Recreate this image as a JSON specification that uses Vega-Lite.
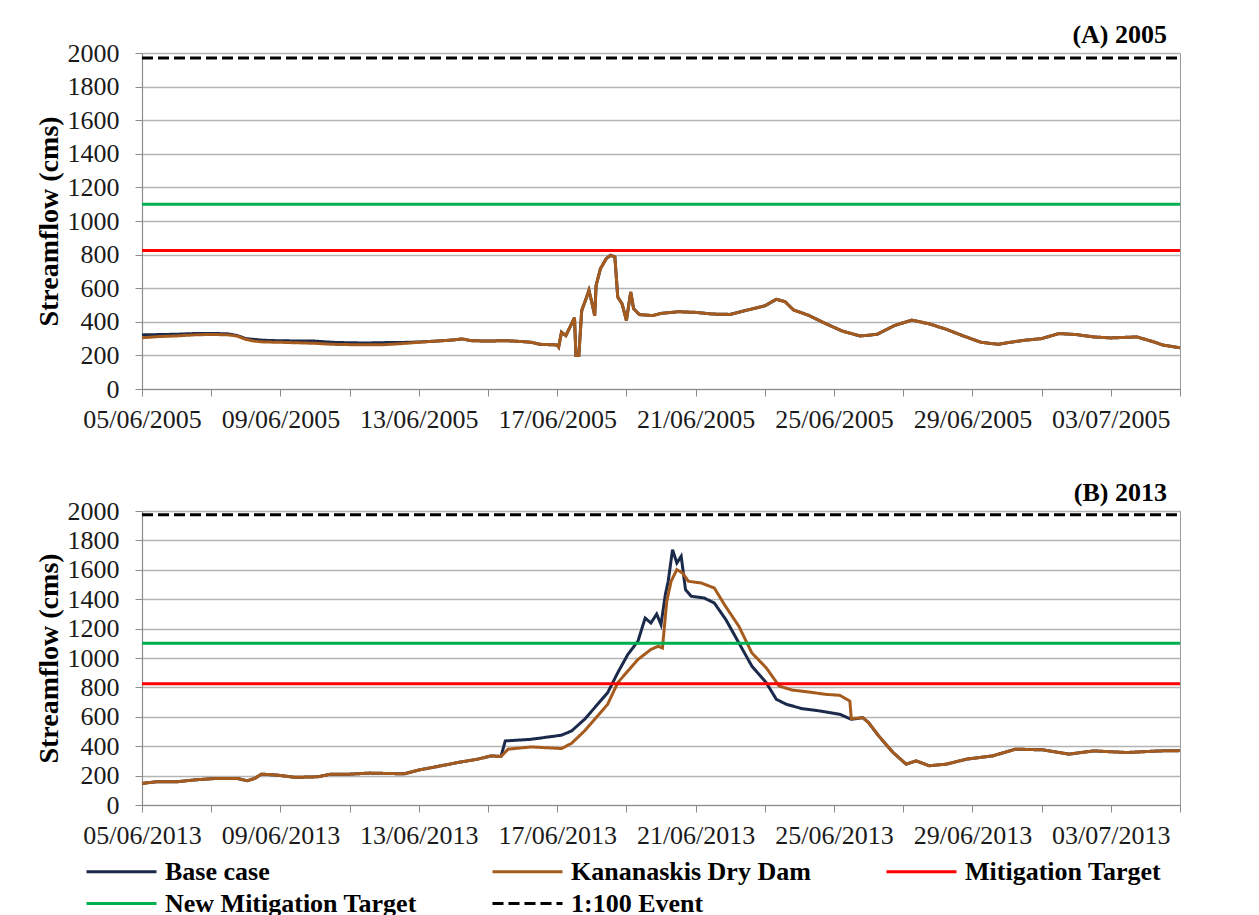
{
  "$schema": "https://vega.github.io/schema/vega-lite/v6.json",
  "padding": {"left": 34, "top": 21, "right": 10, "bottom": 60},
  "background": "white",
  "spacing": 46,
  "datasets": {
    "p2005": [
      {"series": "Base case", "t": "2005-06-05T00:00", "v": 322},
      {"series": "Base case", "t": "2005-06-05T12:00", "v": 324},
      {"series": "Base case", "t": "2005-06-06T00:00", "v": 326},
      {"series": "Base case", "t": "2005-06-06T12:00", "v": 330},
      {"series": "Base case", "t": "2005-06-07T00:00", "v": 331},
      {"series": "Base case", "t": "2005-06-07T12:00", "v": 328},
      {"series": "Base case", "t": "2005-06-07T18:00", "v": 318},
      {"series": "Base case", "t": "2005-06-08T00:00", "v": 300},
      {"series": "Base case", "t": "2005-06-08T12:00", "v": 290},
      {"series": "Base case", "t": "2005-06-09T00:00", "v": 287},
      {"series": "Base case", "t": "2005-06-09T12:00", "v": 286},
      {"series": "Base case", "t": "2005-06-10T00:00", "v": 285},
      {"series": "Base case", "t": "2005-06-10T12:00", "v": 278},
      {"series": "Base case", "t": "2005-06-11T00:00", "v": 275},
      {"series": "Base case", "t": "2005-06-11T12:00", "v": 274},
      {"series": "Base case", "t": "2005-06-12T00:00", "v": 276},
      {"series": "Base case", "t": "2005-06-12T12:00", "v": 277},
      {"series": "Base case", "t": "2005-06-13T00:00", "v": 280},
      {"series": "Base case", "t": "2005-06-13T12:00", "v": 285},
      {"series": "Base case", "t": "2005-06-14T00:00", "v": 292},
      {"series": "Base case", "t": "2005-06-14T06:00", "v": 298},
      {"series": "Base case", "t": "2005-06-14T12:00", "v": 288},
      {"series": "Base case", "t": "2005-06-15T00:00", "v": 285},
      {"series": "Base case", "t": "2005-06-15T12:00", "v": 288},
      {"series": "Base case", "t": "2005-06-16T00:00", "v": 282},
      {"series": "Base case", "t": "2005-06-16T06:00", "v": 278},
      {"series": "Base case", "t": "2005-06-16T12:00", "v": 266},
      {"series": "Base case", "t": "2005-06-17T00:00", "v": 262},
      {"series": "Base case", "t": "2005-06-17T01:00", "v": 250},
      {"series": "Base case", "t": "2005-06-17T03:00", "v": 338},
      {"series": "Base case", "t": "2005-06-17T06:00", "v": 318},
      {"series": "Base case", "t": "2005-06-17T12:00", "v": 424},
      {"series": "Base case", "t": "2005-06-17T13:00", "v": 199},
      {"series": "Base case", "t": "2005-06-17T15:00", "v": 199},
      {"series": "Base case", "t": "2005-06-17T17:00", "v": 467},
      {"series": "Base case", "t": "2005-06-17T20:00", "v": 537},
      {"series": "Base case", "t": "2005-06-17T22:00", "v": 587},
      {"series": "Base case", "t": "2005-06-18T00:00", "v": 517},
      {"series": "Base case", "t": "2005-06-18T02:00", "v": 437},
      {"series": "Base case", "t": "2005-06-18T03:00", "v": 617},
      {"series": "Base case", "t": "2005-06-18T06:00", "v": 716},
      {"series": "Base case", "t": "2005-06-18T10:00", "v": 776},
      {"series": "Base case", "t": "2005-06-18T13:00", "v": 796},
      {"series": "Base case", "t": "2005-06-18T16:00", "v": 786},
      {"series": "Base case", "t": "2005-06-18T18:00", "v": 547},
      {"series": "Base case", "t": "2005-06-18T21:00", "v": 507},
      {"series": "Base case", "t": "2005-06-19T00:00", "v": 408},
      {"series": "Base case", "t": "2005-06-19T03:00", "v": 577},
      {"series": "Base case", "t": "2005-06-19T05:00", "v": 478},
      {"series": "Base case", "t": "2005-06-19T09:00", "v": 443},
      {"series": "Base case", "t": "2005-06-19T18:00", "v": 437},
      {"series": "Base case", "t": "2005-06-20T00:00", "v": 450},
      {"series": "Base case", "t": "2005-06-20T12:00", "v": 460},
      {"series": "Base case", "t": "2005-06-21T00:00", "v": 456},
      {"series": "Base case", "t": "2005-06-21T12:00", "v": 446},
      {"series": "Base case", "t": "2005-06-22T00:00", "v": 444},
      {"series": "Base case", "t": "2005-06-22T12:00", "v": 470},
      {"series": "Base case", "t": "2005-06-23T00:00", "v": 495},
      {"series": "Base case", "t": "2005-06-23T08:00", "v": 534},
      {"series": "Base case", "t": "2005-06-23T14:00", "v": 520},
      {"series": "Base case", "t": "2005-06-23T20:00", "v": 470},
      {"series": "Base case", "t": "2005-06-24T06:00", "v": 440},
      {"series": "Base case", "t": "2005-06-24T18:00", "v": 390},
      {"series": "Base case", "t": "2005-06-25T06:00", "v": 344},
      {"series": "Base case", "t": "2005-06-25T18:00", "v": 316},
      {"series": "Base case", "t": "2005-06-26T00:00", "v": 320},
      {"series": "Base case", "t": "2005-06-26T06:00", "v": 326},
      {"series": "Base case", "t": "2005-06-26T18:00", "v": 378},
      {"series": "Base case", "t": "2005-06-27T06:00", "v": 410},
      {"series": "Base case", "t": "2005-06-27T18:00", "v": 388},
      {"series": "Base case", "t": "2005-06-28T06:00", "v": 355},
      {"series": "Base case", "t": "2005-06-28T18:00", "v": 315},
      {"series": "Base case", "t": "2005-06-29T06:00", "v": 278},
      {"series": "Base case", "t": "2005-06-29T18:00", "v": 266},
      {"series": "Base case", "t": "2005-06-30T00:00", "v": 275},
      {"series": "Base case", "t": "2005-06-30T12:00", "v": 290},
      {"series": "Base case", "t": "2005-07-01T00:00", "v": 300},
      {"series": "Base case", "t": "2005-07-01T12:00", "v": 330},
      {"series": "Base case", "t": "2005-07-02T00:00", "v": 324},
      {"series": "Base case", "t": "2005-07-02T12:00", "v": 310},
      {"series": "Base case", "t": "2005-07-03T00:00", "v": 304},
      {"series": "Base case", "t": "2005-07-03T18:00", "v": 310},
      {"series": "Base case", "t": "2005-07-04T06:00", "v": 280},
      {"series": "Base case", "t": "2005-07-04T12:00", "v": 262},
      {"series": "Base case", "t": "2005-07-05T00:00", "v": 245},
      {"series": "Kananaskis Dry Dam", "t": "2005-06-05T00:00", "v": 305},
      {"series": "Kananaskis Dry Dam", "t": "2005-06-05T12:00", "v": 312},
      {"series": "Kananaskis Dry Dam", "t": "2005-06-06T00:00", "v": 316},
      {"series": "Kananaskis Dry Dam", "t": "2005-06-06T12:00", "v": 322},
      {"series": "Kananaskis Dry Dam", "t": "2005-06-07T00:00", "v": 325},
      {"series": "Kananaskis Dry Dam", "t": "2005-06-07T12:00", "v": 322},
      {"series": "Kananaskis Dry Dam", "t": "2005-06-07T18:00", "v": 315},
      {"series": "Kananaskis Dry Dam", "t": "2005-06-08T00:00", "v": 295},
      {"series": "Kananaskis Dry Dam", "t": "2005-06-08T06:00", "v": 285},
      {"series": "Kananaskis Dry Dam", "t": "2005-06-08T12:00", "v": 280},
      {"series": "Kananaskis Dry Dam", "t": "2005-06-09T00:00", "v": 278},
      {"series": "Kananaskis Dry Dam", "t": "2005-06-09T12:00", "v": 275},
      {"series": "Kananaskis Dry Dam", "t": "2005-06-10T00:00", "v": 272},
      {"series": "Kananaskis Dry Dam", "t": "2005-06-10T12:00", "v": 266},
      {"series": "Kananaskis Dry Dam", "t": "2005-06-11T00:00", "v": 264},
      {"series": "Kananaskis Dry Dam", "t": "2005-06-11T12:00", "v": 263},
      {"series": "Kananaskis Dry Dam", "t": "2005-06-12T00:00", "v": 264},
      {"series": "Kananaskis Dry Dam", "t": "2005-06-12T12:00", "v": 270},
      {"series": "Kananaskis Dry Dam", "t": "2005-06-13T00:00", "v": 278},
      {"series": "Kananaskis Dry Dam", "t": "2005-06-13T12:00", "v": 285},
      {"series": "Kananaskis Dry Dam", "t": "2005-06-14T00:00", "v": 292},
      {"series": "Kananaskis Dry Dam", "t": "2005-06-14T06:00", "v": 298},
      {"series": "Kananaskis Dry Dam", "t": "2005-06-14T12:00", "v": 288},
      {"series": "Kananaskis Dry Dam", "t": "2005-06-15T00:00", "v": 285},
      {"series": "Kananaskis Dry Dam", "t": "2005-06-15T12:00", "v": 288},
      {"series": "Kananaskis Dry Dam", "t": "2005-06-16T00:00", "v": 282},
      {"series": "Kananaskis Dry Dam", "t": "2005-06-16T06:00", "v": 278},
      {"series": "Kananaskis Dry Dam", "t": "2005-06-16T12:00", "v": 266},
      {"series": "Kananaskis Dry Dam", "t": "2005-06-17T00:00", "v": 262},
      {"series": "Kananaskis Dry Dam", "t": "2005-06-17T01:00", "v": 250},
      {"series": "Kananaskis Dry Dam", "t": "2005-06-17T03:00", "v": 338},
      {"series": "Kananaskis Dry Dam", "t": "2005-06-17T06:00", "v": 318},
      {"series": "Kananaskis Dry Dam", "t": "2005-06-17T12:00", "v": 424},
      {"series": "Kananaskis Dry Dam", "t": "2005-06-17T13:00", "v": 199},
      {"series": "Kananaskis Dry Dam", "t": "2005-06-17T15:00", "v": 199},
      {"series": "Kananaskis Dry Dam", "t": "2005-06-17T17:00", "v": 467},
      {"series": "Kananaskis Dry Dam", "t": "2005-06-17T20:00", "v": 537},
      {"series": "Kananaskis Dry Dam", "t": "2005-06-17T22:00", "v": 587},
      {"series": "Kananaskis Dry Dam", "t": "2005-06-18T00:00", "v": 517},
      {"series": "Kananaskis Dry Dam", "t": "2005-06-18T02:00", "v": 437},
      {"series": "Kananaskis Dry Dam", "t": "2005-06-18T03:00", "v": 617},
      {"series": "Kananaskis Dry Dam", "t": "2005-06-18T06:00", "v": 716},
      {"series": "Kananaskis Dry Dam", "t": "2005-06-18T10:00", "v": 776},
      {"series": "Kananaskis Dry Dam", "t": "2005-06-18T13:00", "v": 796},
      {"series": "Kananaskis Dry Dam", "t": "2005-06-18T16:00", "v": 786},
      {"series": "Kananaskis Dry Dam", "t": "2005-06-18T18:00", "v": 547},
      {"series": "Kananaskis Dry Dam", "t": "2005-06-18T21:00", "v": 507},
      {"series": "Kananaskis Dry Dam", "t": "2005-06-19T00:00", "v": 408},
      {"series": "Kananaskis Dry Dam", "t": "2005-06-19T03:00", "v": 577},
      {"series": "Kananaskis Dry Dam", "t": "2005-06-19T05:00", "v": 478},
      {"series": "Kananaskis Dry Dam", "t": "2005-06-19T09:00", "v": 443},
      {"series": "Kananaskis Dry Dam", "t": "2005-06-19T18:00", "v": 437},
      {"series": "Kananaskis Dry Dam", "t": "2005-06-20T00:00", "v": 450},
      {"series": "Kananaskis Dry Dam", "t": "2005-06-20T12:00", "v": 460},
      {"series": "Kananaskis Dry Dam", "t": "2005-06-21T00:00", "v": 456},
      {"series": "Kananaskis Dry Dam", "t": "2005-06-21T12:00", "v": 446},
      {"series": "Kananaskis Dry Dam", "t": "2005-06-22T00:00", "v": 444},
      {"series": "Kananaskis Dry Dam", "t": "2005-06-22T12:00", "v": 470},
      {"series": "Kananaskis Dry Dam", "t": "2005-06-23T00:00", "v": 495},
      {"series": "Kananaskis Dry Dam", "t": "2005-06-23T08:00", "v": 534},
      {"series": "Kananaskis Dry Dam", "t": "2005-06-23T14:00", "v": 520},
      {"series": "Kananaskis Dry Dam", "t": "2005-06-23T20:00", "v": 470},
      {"series": "Kananaskis Dry Dam", "t": "2005-06-24T06:00", "v": 440},
      {"series": "Kananaskis Dry Dam", "t": "2005-06-24T18:00", "v": 390},
      {"series": "Kananaskis Dry Dam", "t": "2005-06-25T06:00", "v": 344},
      {"series": "Kananaskis Dry Dam", "t": "2005-06-25T18:00", "v": 316},
      {"series": "Kananaskis Dry Dam", "t": "2005-06-26T00:00", "v": 320},
      {"series": "Kananaskis Dry Dam", "t": "2005-06-26T06:00", "v": 326},
      {"series": "Kananaskis Dry Dam", "t": "2005-06-26T18:00", "v": 378},
      {"series": "Kananaskis Dry Dam", "t": "2005-06-27T06:00", "v": 410},
      {"series": "Kananaskis Dry Dam", "t": "2005-06-27T18:00", "v": 388},
      {"series": "Kananaskis Dry Dam", "t": "2005-06-28T06:00", "v": 355},
      {"series": "Kananaskis Dry Dam", "t": "2005-06-28T18:00", "v": 315},
      {"series": "Kananaskis Dry Dam", "t": "2005-06-29T06:00", "v": 278},
      {"series": "Kananaskis Dry Dam", "t": "2005-06-29T18:00", "v": 266},
      {"series": "Kananaskis Dry Dam", "t": "2005-06-30T00:00", "v": 275},
      {"series": "Kananaskis Dry Dam", "t": "2005-06-30T12:00", "v": 290},
      {"series": "Kananaskis Dry Dam", "t": "2005-07-01T00:00", "v": 300},
      {"series": "Kananaskis Dry Dam", "t": "2005-07-01T12:00", "v": 330},
      {"series": "Kananaskis Dry Dam", "t": "2005-07-02T00:00", "v": 324},
      {"series": "Kananaskis Dry Dam", "t": "2005-07-02T12:00", "v": 310},
      {"series": "Kananaskis Dry Dam", "t": "2005-07-03T00:00", "v": 304},
      {"series": "Kananaskis Dry Dam", "t": "2005-07-03T18:00", "v": 310},
      {"series": "Kananaskis Dry Dam", "t": "2005-07-04T06:00", "v": 280},
      {"series": "Kananaskis Dry Dam", "t": "2005-07-04T12:00", "v": 262},
      {"series": "Kananaskis Dry Dam", "t": "2005-07-05T00:00", "v": 245},
      {"series": "Mitigation Target", "t": "2005-06-05T00:00", "v": 825},
      {"series": "Mitigation Target", "t": "2005-07-05T00:00", "v": 825},
      {"series": "New Mitigation Target", "t": "2005-06-05T00:00", "v": 1100},
      {"series": "New Mitigation Target", "t": "2005-07-05T00:00", "v": 1100},
      {"series": "1:100 Event", "t": "2005-06-05T00:00", "v": 1970},
      {"series": "1:100 Event", "t": "2005-07-05T00:00", "v": 1970}
    ],
    "p2013": [
      {"series": "Base case", "t": "2013-06-05T00:00", "v": 147},
      {"series": "Base case", "t": "2013-06-05T10:00", "v": 158},
      {"series": "Base case", "t": "2013-06-06T00:00", "v": 158},
      {"series": "Base case", "t": "2013-06-06T14:00", "v": 172},
      {"series": "Base case", "t": "2013-06-07T04:00", "v": 181},
      {"series": "Base case", "t": "2013-06-07T18:00", "v": 181},
      {"series": "Base case", "t": "2013-06-08T01:00", "v": 165},
      {"series": "Base case", "t": "2013-06-08T06:00", "v": 180},
      {"series": "Base case", "t": "2013-06-08T11:00", "v": 210},
      {"series": "Base case", "t": "2013-06-08T22:00", "v": 203},
      {"series": "Base case", "t": "2013-06-09T10:00", "v": 188},
      {"series": "Base case", "t": "2013-06-10T02:00", "v": 192},
      {"series": "Base case", "t": "2013-06-10T11:00", "v": 210},
      {"series": "Base case", "t": "2013-06-11T00:00", "v": 210},
      {"series": "Base case", "t": "2013-06-11T14:00", "v": 217},
      {"series": "Base case", "t": "2013-06-12T00:00", "v": 215},
      {"series": "Base case", "t": "2013-06-12T14:00", "v": 212},
      {"series": "Base case", "t": "2013-06-13T01:00", "v": 240},
      {"series": "Base case", "t": "2013-06-13T13:00", "v": 262},
      {"series": "Base case", "t": "2013-06-14T03:00", "v": 289},
      {"series": "Base case", "t": "2013-06-14T17:00", "v": 312},
      {"series": "Base case", "t": "2013-06-15T02:00", "v": 334},
      {"series": "Base case", "t": "2013-06-15T09:00", "v": 330},
      {"series": "Base case", "t": "2013-06-15T12:00", "v": 436},
      {"series": "Base case", "t": "2013-06-16T06:00", "v": 447},
      {"series": "Base case", "t": "2013-06-17T03:00", "v": 475},
      {"series": "Base case", "t": "2013-06-17T10:00", "v": 504},
      {"series": "Base case", "t": "2013-06-17T19:00", "v": 583},
      {"series": "Base case", "t": "2013-06-18T04:00", "v": 685},
      {"series": "Base case", "t": "2013-06-18T11:00", "v": 764},
      {"series": "Base case", "t": "2013-06-18T18:00", "v": 900},
      {"series": "Base case", "t": "2013-06-19T01:00", "v": 1024},
      {"series": "Base case", "t": "2013-06-19T08:00", "v": 1114},
      {"series": "Base case", "t": "2013-06-19T13:00", "v": 1272},
      {"series": "Base case", "t": "2013-06-19T17:00", "v": 1238},
      {"series": "Base case", "t": "2013-06-19T21:00", "v": 1299},
      {"series": "Base case", "t": "2013-06-20T00:00", "v": 1227},
      {"series": "Base case", "t": "2013-06-20T03:00", "v": 1431},
      {"series": "Base case", "t": "2013-06-20T05:00", "v": 1522},
      {"series": "Base case", "t": "2013-06-20T08:00", "v": 1737},
      {"series": "Base case", "t": "2013-06-20T11:00", "v": 1646},
      {"series": "Base case", "t": "2013-06-20T14:00", "v": 1692},
      {"series": "Base case", "t": "2013-06-20T17:00", "v": 1465},
      {"series": "Base case", "t": "2013-06-20T21:00", "v": 1420},
      {"series": "Base case", "t": "2013-06-21T06:00", "v": 1408},
      {"series": "Base case", "t": "2013-06-21T13:00", "v": 1374},
      {"series": "Base case", "t": "2013-06-21T21:00", "v": 1261},
      {"series": "Base case", "t": "2013-06-22T06:00", "v": 1103},
      {"series": "Base case", "t": "2013-06-22T15:00", "v": 945},
      {"series": "Base case", "t": "2013-06-23T01:00", "v": 832},
      {"series": "Base case", "t": "2013-06-23T08:00", "v": 719},
      {"series": "Base case", "t": "2013-06-23T15:00", "v": 685},
      {"series": "Base case", "t": "2013-06-24T02:00", "v": 655},
      {"series": "Base case", "t": "2013-06-24T14:00", "v": 640},
      {"series": "Base case", "t": "2013-06-25T04:00", "v": 617},
      {"series": "Base case", "t": "2013-06-25T12:00", "v": 583},
      {"series": "Base case", "t": "2013-06-25T20:00", "v": 594},
      {"series": "Base case", "t": "2013-06-26T00:00", "v": 560},
      {"series": "Base case", "t": "2013-06-26T07:00", "v": 470},
      {"series": "Base case", "t": "2013-06-26T17:00", "v": 357},
      {"series": "Base case", "t": "2013-06-27T02:00", "v": 278},
      {"series": "Base case", "t": "2013-06-27T09:00", "v": 300},
      {"series": "Base case", "t": "2013-06-27T18:00", "v": 267},
      {"series": "Base case", "t": "2013-06-28T06:00", "v": 278},
      {"series": "Base case", "t": "2013-06-28T20:00", "v": 312},
      {"series": "Base case", "t": "2013-06-29T14:00", "v": 334},
      {"series": "Base case", "t": "2013-06-30T06:00", "v": 380},
      {"series": "Base case", "t": "2013-07-01T01:00", "v": 375},
      {"series": "Base case", "t": "2013-07-01T19:00", "v": 346},
      {"series": "Base case", "t": "2013-07-02T12:00", "v": 368},
      {"series": "Base case", "t": "2013-07-03T11:00", "v": 357},
      {"series": "Base case", "t": "2013-07-04T10:00", "v": 368},
      {"series": "Base case", "t": "2013-07-05T00:00", "v": 370},
      {"series": "Kananaskis Dry Dam", "t": "2013-06-05T00:00", "v": 147},
      {"series": "Kananaskis Dry Dam", "t": "2013-06-05T10:00", "v": 158},
      {"series": "Kananaskis Dry Dam", "t": "2013-06-06T00:00", "v": 158},
      {"series": "Kananaskis Dry Dam", "t": "2013-06-06T14:00", "v": 172},
      {"series": "Kananaskis Dry Dam", "t": "2013-06-07T04:00", "v": 181},
      {"series": "Kananaskis Dry Dam", "t": "2013-06-07T18:00", "v": 181},
      {"series": "Kananaskis Dry Dam", "t": "2013-06-08T01:00", "v": 165},
      {"series": "Kananaskis Dry Dam", "t": "2013-06-08T06:00", "v": 180},
      {"series": "Kananaskis Dry Dam", "t": "2013-06-08T11:00", "v": 210},
      {"series": "Kananaskis Dry Dam", "t": "2013-06-08T22:00", "v": 203},
      {"series": "Kananaskis Dry Dam", "t": "2013-06-09T10:00", "v": 188},
      {"series": "Kananaskis Dry Dam", "t": "2013-06-10T02:00", "v": 192},
      {"series": "Kananaskis Dry Dam", "t": "2013-06-10T11:00", "v": 210},
      {"series": "Kananaskis Dry Dam", "t": "2013-06-11T00:00", "v": 210},
      {"series": "Kananaskis Dry Dam", "t": "2013-06-11T14:00", "v": 217},
      {"series": "Kananaskis Dry Dam", "t": "2013-06-12T00:00", "v": 215},
      {"series": "Kananaskis Dry Dam", "t": "2013-06-12T14:00", "v": 212},
      {"series": "Kananaskis Dry Dam", "t": "2013-06-13T01:00", "v": 240},
      {"series": "Kananaskis Dry Dam", "t": "2013-06-13T13:00", "v": 262},
      {"series": "Kananaskis Dry Dam", "t": "2013-06-14T03:00", "v": 289},
      {"series": "Kananaskis Dry Dam", "t": "2013-06-14T17:00", "v": 312},
      {"series": "Kananaskis Dry Dam", "t": "2013-06-15T02:00", "v": 334},
      {"series": "Kananaskis Dry Dam", "t": "2013-06-15T09:00", "v": 330},
      {"series": "Kananaskis Dry Dam", "t": "2013-06-15T14:00", "v": 380},
      {"series": "Kananaskis Dry Dam", "t": "2013-06-16T06:00", "v": 395},
      {"series": "Kananaskis Dry Dam", "t": "2013-06-17T03:00", "v": 384},
      {"series": "Kananaskis Dry Dam", "t": "2013-06-17T10:00", "v": 420},
      {"series": "Kananaskis Dry Dam", "t": "2013-06-17T19:00", "v": 504},
      {"series": "Kananaskis Dry Dam", "t": "2013-06-18T04:00", "v": 606},
      {"series": "Kananaskis Dry Dam", "t": "2013-06-18T11:00", "v": 685},
      {"series": "Kananaskis Dry Dam", "t": "2013-06-18T18:00", "v": 832},
      {"series": "Kananaskis Dry Dam", "t": "2013-06-19T01:00", "v": 911},
      {"series": "Kananaskis Dry Dam", "t": "2013-06-19T08:00", "v": 990},
      {"series": "Kananaskis Dry Dam", "t": "2013-06-19T17:00", "v": 1058},
      {"series": "Kananaskis Dry Dam", "t": "2013-06-19T22:00", "v": 1080},
      {"series": "Kananaskis Dry Dam", "t": "2013-06-20T01:00", "v": 1068},
      {"series": "Kananaskis Dry Dam", "t": "2013-06-20T04:00", "v": 1385},
      {"series": "Kananaskis Dry Dam", "t": "2013-06-20T07:00", "v": 1522},
      {"series": "Kananaskis Dry Dam", "t": "2013-06-20T11:00", "v": 1601},
      {"series": "Kananaskis Dry Dam", "t": "2013-06-20T15:00", "v": 1578},
      {"series": "Kananaskis Dry Dam", "t": "2013-06-20T19:00", "v": 1522},
      {"series": "Kananaskis Dry Dam", "t": "2013-06-21T04:00", "v": 1510},
      {"series": "Kananaskis Dry Dam", "t": "2013-06-21T13:00", "v": 1476},
      {"series": "Kananaskis Dry Dam", "t": "2013-06-21T20:00", "v": 1363},
      {"series": "Kananaskis Dry Dam", "t": "2013-06-22T06:00", "v": 1216},
      {"series": "Kananaskis Dry Dam", "t": "2013-06-22T15:00", "v": 1035},
      {"series": "Kananaskis Dry Dam", "t": "2013-06-23T01:00", "v": 933},
      {"series": "Kananaskis Dry Dam", "t": "2013-06-23T10:00", "v": 809},
      {"series": "Kananaskis Dry Dam", "t": "2013-06-23T19:00", "v": 782},
      {"series": "Kananaskis Dry Dam", "t": "2013-06-24T07:00", "v": 768},
      {"series": "Kananaskis Dry Dam", "t": "2013-06-24T18:00", "v": 753},
      {"series": "Kananaskis Dry Dam", "t": "2013-06-25T04:00", "v": 746},
      {"series": "Kananaskis Dry Dam", "t": "2013-06-25T11:00", "v": 707},
      {"series": "Kananaskis Dry Dam", "t": "2013-06-25T12:00", "v": 588},
      {"series": "Kananaskis Dry Dam", "t": "2013-06-25T20:00", "v": 594},
      {"series": "Kananaskis Dry Dam", "t": "2013-06-26T00:00", "v": 560},
      {"series": "Kananaskis Dry Dam", "t": "2013-06-26T07:00", "v": 470},
      {"series": "Kananaskis Dry Dam", "t": "2013-06-26T17:00", "v": 357},
      {"series": "Kananaskis Dry Dam", "t": "2013-06-27T02:00", "v": 278},
      {"series": "Kananaskis Dry Dam", "t": "2013-06-27T09:00", "v": 300},
      {"series": "Kananaskis Dry Dam", "t": "2013-06-27T18:00", "v": 267},
      {"series": "Kananaskis Dry Dam", "t": "2013-06-28T06:00", "v": 278},
      {"series": "Kananaskis Dry Dam", "t": "2013-06-28T20:00", "v": 312},
      {"series": "Kananaskis Dry Dam", "t": "2013-06-29T14:00", "v": 334},
      {"series": "Kananaskis Dry Dam", "t": "2013-06-30T06:00", "v": 380},
      {"series": "Kananaskis Dry Dam", "t": "2013-07-01T01:00", "v": 375},
      {"series": "Kananaskis Dry Dam", "t": "2013-07-01T19:00", "v": 346},
      {"series": "Kananaskis Dry Dam", "t": "2013-07-02T12:00", "v": 368},
      {"series": "Kananaskis Dry Dam", "t": "2013-07-03T11:00", "v": 357},
      {"series": "Kananaskis Dry Dam", "t": "2013-07-04T10:00", "v": 368},
      {"series": "Kananaskis Dry Dam", "t": "2013-07-05T00:00", "v": 370},
      {"series": "Mitigation Target", "t": "2013-06-05T00:00", "v": 825},
      {"series": "Mitigation Target", "t": "2013-07-05T00:00", "v": 825},
      {"series": "New Mitigation Target", "t": "2013-06-05T00:00", "v": 1100},
      {"series": "New Mitigation Target", "t": "2013-07-05T00:00", "v": 1100},
      {"series": "1:100 Event", "t": "2013-06-05T00:00", "v": 1975},
      {"series": "1:100 Event", "t": "2013-07-05T00:00", "v": 1975}
    ]
  },
  "vconcat": [
    {
      "width": 1038,
      "height": 336,
      "title": {"text": "(A) 2005", "anchor": "end", "frame": "group", "dx": -13, "offset": -8},
      "data": {"name": "p2005"},
      "mark": {"type": "line", "strokeWidth": 3, "clip": true},
      "encoding": {
        "x": {
          "field": "t", "type": "temporal",
          "scale": {"domain": [{"year": 2005, "month": 6, "date": 5}, {"year": 2005, "month": 7, "date": 5}], "nice": false},
          "axis": {"title": null, "grid": false, "tickCount": {"interval": "day", "step": 2}, "labelExpr": "(month(datum.value) == 5 && (date(datum.value) - 1) % 4 == 0) || (month(datum.value) == 6 && date(datum.value) == 3) ? timeFormat(datum.value, '%d/%m/%Y') : ''", "labelPadding": 10, "labelOverlap": false, "labelFlush": false, "labelAngle": 0}
        },
        "y": {
          "field": "v", "type": "quantitative",
          "scale": {"domain": [0, 2000], "nice": false},
          "axis": {"title": "Streamflow (cms)", "format": "d", "values": [0, 200, 400, 600, 800, 1000, 1200, 1400, 1600, 1800, 2000], "labelPadding": 16, "titlePadding": 4}
        },
        "color": {
          "field": "series", "type": "nominal",
          "scale": {"domain": ["Base case", "Kananaskis Dry Dam", "Mitigation Target", "New Mitigation Target", "1:100 Event"], "range": ["#1B2A4A", "#A65B1E", "#FF0000", "#00B050", "#000000"]},
          "legend": {"orient": "none", "legendX": -36, "legendY": 803, "direction": "horizontal", "columns": 3, "title": null, "symbolType": "M-2.5,0H2.5", "symbolSize": 784, "symbolStrokeWidth": 3, "labelOffset": 28, "columnPadding": 69, "rowPadding": 3, "labelLimit": 400, "padding": 0}
        },
        "strokeDash": {
          "field": "series", "type": "nominal",
          "scale": {"domain": ["Base case", "Kananaskis Dry Dam", "Mitigation Target", "New Mitigation Target", "1:100 Event"], "range": [[1, 0], [1, 0], [1, 0], [1, 0], [11, 5]]},
          "legend": {"orient": "none", "legendX": -36, "legendY": 803, "direction": "horizontal", "columns": 3, "title": null, "symbolType": "M-2.5,0H2.5", "symbolSize": 784, "symbolStrokeWidth": 3, "labelOffset": 28, "columnPadding": 69, "rowPadding": 3, "labelLimit": 400, "padding": 0}
        }
      }
    },
    {
      "width": 1038,
      "height": 294,
      "title": {"text": "(B) 2013", "anchor": "end", "frame": "group", "dx": -13, "offset": -8},
      "data": {"name": "p2013"},
      "mark": {"type": "line", "strokeWidth": 3, "clip": true},
      "encoding": {
        "x": {
          "field": "t", "type": "temporal",
          "scale": {"domain": [{"year": 2013, "month": 6, "date": 5}, {"year": 2013, "month": 7, "date": 5}], "nice": false},
          "axis": {"title": null, "grid": false, "tickCount": {"interval": "day", "step": 2}, "labelExpr": "(month(datum.value) == 5 && (date(datum.value) - 1) % 4 == 0) || (month(datum.value) == 6 && date(datum.value) == 3) ? timeFormat(datum.value, '%d/%m/%Y') : ''", "labelPadding": 10, "labelOverlap": false, "labelFlush": false, "labelAngle": 0}
        },
        "y": {
          "field": "v", "type": "quantitative",
          "scale": {"domain": [0, 2000], "nice": false},
          "axis": {"title": "Streamflow (cms)", "format": "d", "values": [0, 200, 400, 600, 800, 1000, 1200, 1400, 1600, 1800, 2000], "labelPadding": 16, "titlePadding": 4}
        },
        "color": {
          "field": "series", "type": "nominal",
          "scale": {"domain": ["Base case", "Kananaskis Dry Dam", "Mitigation Target", "New Mitigation Target", "1:100 Event"], "range": ["#1B2A4A", "#A65B1E", "#FF0000", "#00B050", "#000000"]},
          "legend": {"orient": "none", "legendX": -36, "legendY": 803, "direction": "horizontal", "columns": 3, "title": null, "symbolType": "M-2.5,0H2.5", "symbolSize": 784, "symbolStrokeWidth": 3, "labelOffset": 28, "columnPadding": 69, "rowPadding": 3, "labelLimit": 400, "padding": 0}
        },
        "strokeDash": {
          "field": "series", "type": "nominal",
          "scale": {"domain": ["Base case", "Kananaskis Dry Dam", "Mitigation Target", "New Mitigation Target", "1:100 Event"], "range": [[1, 0], [1, 0], [1, 0], [1, 0], [11, 5]]},
          "legend": {"orient": "none", "legendX": -36, "legendY": 803, "direction": "horizontal", "columns": 3, "title": null, "symbolType": "M-2.5,0H2.5", "symbolSize": 784, "symbolStrokeWidth": 3, "labelOffset": 28, "columnPadding": 69, "rowPadding": 3, "labelLimit": 400, "padding": 0}
        }
      }
    }
  ],
  "resolve": {"scale": {"x": "independent"}},
  "config": {
    "font": "Liberation Serif",
    "view": {"stroke": "#9a9a9a", "strokeWidth": 1},
    "title": {"font": "Liberation Serif", "fontSize": 26, "fontWeight": "bold", "color": "#000000"},
    "axis": {
      "labelFont": "Liberation Serif", "labelFontSize": 26, "labelColor": "#1a1a1a",
      "titleFont": "Liberation Serif", "titleFontSize": 28, "titleFontWeight": "bold", "titleColor": "#000000",
      "domainColor": "#8c8c8c", "tickColor": "#8c8c8c", "tickSize": 7, "domainWidth": 1.2,
      "gridColor": "#b4b4b4", "gridWidth": 1.5
    },
    "legend": {"labelFont": "Liberation Serif", "labelFontSize": 26, "labelFontWeight": "bold", "labelColor": "#000000"}
  }
}
